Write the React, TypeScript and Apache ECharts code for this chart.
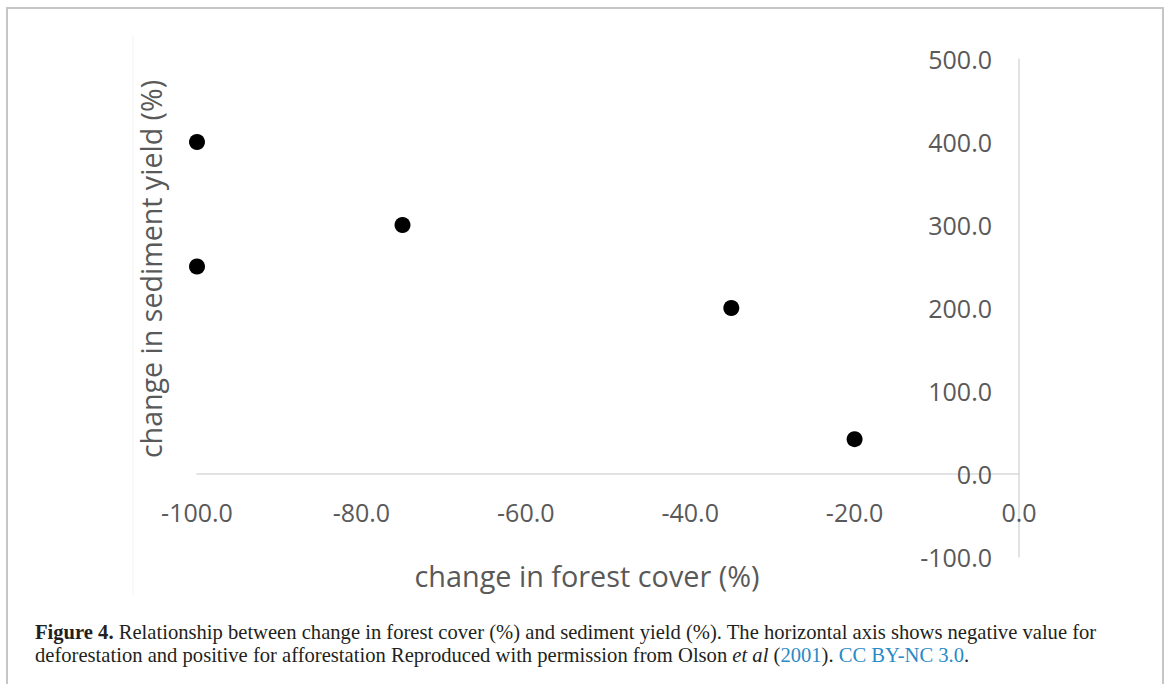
import React, { useEffect, useRef } from "react";
import * as echarts from "echarts";

const forestChange = [-100, -100, -75, -35, -20];
const sedimentChange = [400, 250, 300, 200, 42];
const xTicks = { min: -100, max: 0, interval: 20 };
const yTicks = { min: -100, max: 500, interval: 100 };
const xTitle = "change in forest cover (%)";
const yTitle = "change in sediment yield (%)";
const captionLine1 =
  "{b|Figure 4.}{n| Relationship between change in forest cover (%) and sediment yield (%). The horizontal axis shows negative value for}";
const captionLine2 =
  "{n|deforestation and positive for afforestation Reproduced with permission from Olson }{i|et al}{n| (}{l|2001}{n|). }{l|CC BY-NC 3.0}{n|.}";

export default function App() {
  const ref = useRef<HTMLDivElement>(null);
  useEffect(() => {
    if (!ref.current) return;
    const chart = echarts.init(ref.current, null, { renderer: "svg" });
    const sans = "'Open Sans', sans-serif";
    const serif = "'Liberation Serif', 'Times New Roman', serif";
    const capSize = 20.6;
    const capBase = { fontFamily: serif, fontSize: capSize, fill: "#231f20", color: "#231f20" };
    const rich = {
      n: { ...capBase },
      b: { ...capBase, fontWeight: "bold" },
      i: { ...capBase, fontStyle: "italic" },
      l: { ...capBase, fill: "#2a8ac6", color: "#2a8ac6" },
    };
    const gridTop = 59;
    const gridBottomY = 557;
    const zeroY = 474;
    chart.setOption({
      animation: false,
      backgroundColor: "#ffffff",
      grid: {
        left: 197,
        right: 151,
        top: gridTop,
        bottom: 684 - gridBottomY,
        containLabel: false,
        outerBoundsMode: "none",
      },
      xAxis: {
        type: "value",
        position: "bottom",
        offset: zeroY - gridBottomY,
        min: xTicks.min,
        max: xTicks.max,
        interval: xTicks.interval,
        axisLine: { show: true, onZero: false, lineStyle: { color: "#d9d9d9", width: 1.5 } },
        axisTick: { show: false },
        splitLine: { show: false },
        axisLabel: {
          margin: 25,
          fontFamily: sans,
          fontSize: 25,
          color: "#595959",
          formatter: (v: number) => v.toFixed(1),
        },
      },
      yAxis: {
        type: "value",
        position: "right",
        min: yTicks.min,
        max: yTicks.max,
        interval: yTicks.interval,
        axisLine: { show: true, onZero: false, lineStyle: { color: "#d9d9d9", width: 1.5 } },
        axisTick: { show: false },
        splitLine: { show: false },
        axisLabel: {
          inside: true,
          margin: 27,
          fontFamily: sans,
          fontSize: 25,
          color: "#595959",
          formatter: (v: number) => v.toFixed(1),
        },
      },
      series: [
        {
          type: "scatter",
          symbol: "circle",
          symbolSize: 16,
          itemStyle: { color: "#000000", opacity: 1 },
          data: forestChange.map((x, i) => [x, sedimentChange[i]]),
        },
      ],
      graphic: [
        {
          type: "rect",
          silent: true,
          shape: { x: 7, y: 8, width: 1156, height: 720 },
          style: { fill: "none", stroke: "#c6c6c6", lineWidth: 2 },
        },
        {
          type: "line",
          silent: true,
          shape: { x1: 133, y1: 35, x2: 133, y2: 595 },
          style: { stroke: "#f3f3f3", lineWidth: 1 },
        },
        {
          type: "text",
          x: 587,
          y: 575,
          style: {
            text: xTitle,
            fontFamily: sans,
            fontSize: 28.8,
            fill: "#595959",
            align: "center",
            verticalAlign: "middle",
          },
        },
        {
          type: "text",
          x: 150,
          y: 269,
          rotation: Math.PI / 2,
          style: {
            text: yTitle,
            fontFamily: sans,
            fontSize: 28.6,
            fill: "#595959",
            align: "center",
            verticalAlign: "middle",
          },
        },
        {
          type: "text",
          x: 35,
          y: 632,
          style: { text: captionLine1, rich, ...capBase, verticalAlign: "middle" },
        },
        {
          type: "text",
          x: 35,
          y: 655,
          style: { text: captionLine2, rich, ...capBase, verticalAlign: "middle" },
        },
      ],
    });
    return () => chart.dispose();
  }, []);
  return (
    <div
      ref={ref}
      style={{ position: "fixed", left: 0, top: 0, width: 1170, height: 684 }}
    />
  );
}
